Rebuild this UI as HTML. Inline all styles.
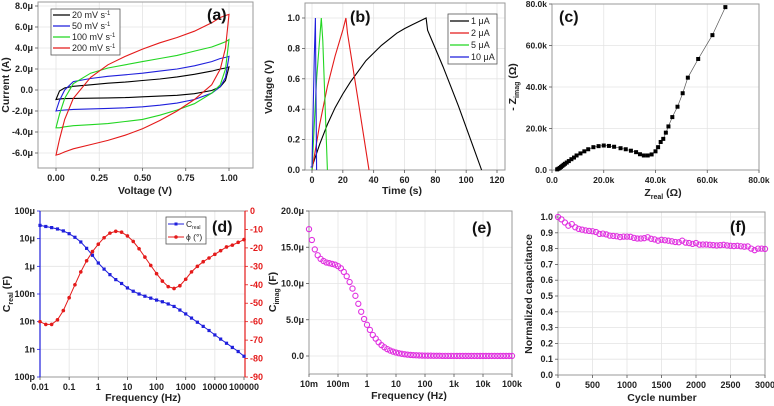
<!DOCTYPE html>
<html><head><meta charset="utf-8">
<style>
html,body{margin:0;padding:0;background:#fff;}
svg{display:block;font-family:"Liberation Sans",Arial,sans-serif;font-weight:bold;}
</style></head>
<body>
<svg id="fig" width="774" height="406" viewBox="0 0 774 406" xmlns="http://www.w3.org/2000/svg"></svg>
<script>
// ---- Panel (a) CV data ----
const cvVoltage = [0,0.02,0.05,0.1,0.2,0.3,0.4,0.5,0.6,0.7,0.8,0.9,0.95,0.98,1.0];
const cv20Up  = [-0.9,-0.1,0.2,0.35,0.5,0.65,0.75,0.9,1.05,1.25,1.5,1.8,2.0,2.1,2.2];
const cv20Low = [-0.9,-0.85,-0.82,-0.8,-0.78,-0.75,-0.72,-0.65,-0.58,-0.5,-0.35,-0.05,0.3,0.9,2.2];
const cv50Up  = [-2.0,-1.0,0.0,0.8,1.1,1.3,1.45,1.6,1.8,2.0,2.3,2.7,3.0,3.1,3.2];
const cv50Low = [-2.0,-1.95,-1.9,-1.85,-1.8,-1.75,-1.7,-1.6,-1.45,-1.25,-0.9,-0.3,0.3,1.2,3.2];
const cv100Up = [-3.6,-2.3,-0.8,0.6,1.6,2.1,2.4,2.7,3.0,3.3,3.7,4.1,4.4,4.6,4.8];
const cv100Low= [-3.6,-3.6,-3.5,-3.4,-3.3,-3.2,-3.0,-2.8,-2.4,-1.9,-1.3,-0.3,0.5,2.0,4.8];
const cv200Up = [-6.2,-4.7,-2.8,-0.8,1.2,2.4,3.2,3.9,4.5,5.0,5.6,6.4,6.9,7.1,7.2];
const cv200Low= [-6.2,-6.1,-5.9,-5.6,-5.2,-4.8,-4.3,-3.7,-2.9,-2.0,-0.9,0.5,2.0,4.0,7.2];
// ---- Panel (b) GCD data ----
const gcd1T = [0,5,10,15,20,25,30,35,40,45,50,55,60,65,70,74,75,80,85,90,95,100,105,110];
const gcd1V = [0.02,0.17,0.3,0.41,0.5,0.58,0.65,0.72,0.77,0.82,0.86,0.9,0.93,0.955,0.98,1.0,0.92,0.8,0.68,0.55,0.42,0.28,0.14,0];
const gcd2T = [0,5,10,15,20,22,23,30,37];
const gcd2V = [0,0.3,0.55,0.75,0.92,1.0,0.9,0.45,0];
const gcd5T = [0,3,6,7,10];
const gcd5V = [0,0.6,1.0,0.85,0];
const gcd10T = [-1,0,1.5,2.2,3];
const gcd10V = [0.02,0.02,0.75,1.0,0];
// ---- Panel (c) Nyquist data (kOhm) ----
const zReal = [2,2.5,3,3.5,4,4.5,5,5.7,6.5,7.5,8.5,9.5,11,12.5,14,16,18,20,22,24,26.5,28.5,30.5,32.5,34,35.5,37,38.5,40,41,42,43,44,45,46.5,48.5,50.5,52.5,56.5,62,67];
const zImag = [0.3,0.6,1,1.5,2,2.5,3,3.6,4.3,5.2,6,7,8,9,10,11,11.5,11.8,11.6,11.2,10.5,10,9.3,8.6,7.6,7,7,7.5,9,11,13.5,15,18,21,25.5,30.5,37,44.5,53.5,65,78.5];
// ---- Panel (d) Bode data ----
const bodeFreq = [0.01,0.0158,0.0251,0.0398,0.0631,0.1,0.158,0.251,0.398,0.631,1,1.58,2.51,3.98,6.31,10,15.8,25.1,39.8,63.1,100,158,251,398,631,1000,1580,2510,3980,6310,10000,15800,25100,39800,63100,100000];
const cRealLog10 = [-4.52,-4.56,-4.6,-4.65,-4.72,-4.82,-4.95,-5.12,-5.35,-5.6,-5.88,-6.1,-6.3,-6.48,-6.62,-6.78,-6.9,-7.0,-7.08,-7.15,-7.22,-7.28,-7.36,-7.45,-7.58,-7.72,-7.87,-8.02,-8.17,-8.32,-8.48,-8.63,-8.78,-8.93,-9.08,-9.25];
const phaseDeg = [-60,-61.5,-61.5,-59,-54,-47,-40,-33,-27,-22,-18,-14.5,-12,-11,-11.5,-13.5,-16.5,-20.5,-25,-29.5,-34,-38,-41,-42,-40.5,-37,-33,-30,-27.5,-25.5,-23.5,-21.5,-19.5,-18.5,-17,-15.5];
// ---- Panel (e) C imag data ----
const eLogFreq = [-2,-1.9,-1.8,-1.7,-1.6,-1.5,-1.4,-1.3,-1.2,-1.1,-1,-0.9,-0.8,-0.7,-0.6,-0.5,-0.4,-0.3,-0.2,-0.1,0,0.1,0.2,0.3,0.4,0.5,0.6,0.7,0.8,0.9,1,1.1,1.2,1.3,1.4,1.5,1.6,1.7,1.8,1.9,2,2.1,2.2,2.3,2.4,2.5,2.6,2.7,2.8,2.9,3,3.1,3.2,3.3,3.4,3.5,3.6,3.7,3.8,3.9,4,4.1,4.2,4.3,4.4,4.5,4.6,4.7,4.8,4.9,5];
const cImag = [17.5,16,14.7,13.9,13.4,13.1,12.9,12.8,12.7,12.6,12.4,12.1,11.6,11.0,10.2,9.3,8.3,7.2,6.1,5.1,4.3,3.6,2.9,2.4,1.9,1.5,1.2,0.95,0.75,0.6,0.48,0.38,0.3,0.24,0.19,0.15,0.12,0.1,0.08,0.06,0.05,0.04,0.04,0.03,0.03,0.03,0.02,0.02,0.02,0.02,0.02,0.01,0.01,0.01,0.01,0.01,0.01,0.01,0.01,0.01,0.01,0.01,0.01,0.01,0.01,0.01,0.01,0.01,0.01,0.01,0.01];
// ---- Panel (f) cycling data ----
const cycles = [0,50,100,150,200,250,300,350,400,450,500,550,600,650,700,750,800,850,900,950,1000,1050,1100,1150,1200,1250,1300,1350,1400,1450,1500,1550,1600,1650,1700,1750,1800,1850,1900,1950,2000,2050,2100,2150,2200,2250,2300,2350,2400,2450,2500,2550,2600,2650,2700,2750,2800,2850,2900,2950,3000];
const normCap = [1.0,0.985,0.965,0.945,0.955,0.935,0.925,0.92,0.915,0.912,0.91,0.905,0.893,0.895,0.89,0.882,0.88,0.878,0.873,0.876,0.876,0.875,0.868,0.864,0.864,0.866,0.872,0.862,0.858,0.85,0.856,0.853,0.85,0.846,0.842,0.84,0.85,0.838,0.835,0.83,0.835,0.825,0.826,0.826,0.824,0.822,0.82,0.822,0.824,0.82,0.818,0.816,0.818,0.815,0.812,0.814,0.8,0.79,0.8,0.8,0.798];

const NS = "http://www.w3.org/2000/svg";
const fig = document.getElementById('fig');
function el(tag, attrs, parent, txt){
  const e = document.createElementNS(NS, tag);
  for (const k in attrs) e.setAttribute(k, attrs[k]);
  if (txt !== undefined) e.textContent = txt;
  (parent || fig).appendChild(e);
  return e;
}
function lin(v0,p0,v1,p1){ return v => p0 + (v - v0) * (p1 - p0) / (v1 - v0); }
function logs(v0,p0,v1,p1){ const f = lin(Math.log10(v0),p0,Math.log10(v1),p1); return v => f(Math.log10(v)); }
function pathD(xs, ys, sx, sy){ return xs.map((x,i)=>(i?'L':'M')+sx(x).toFixed(1)+','+sy(ys[i]).toFixed(1)).join(''); }

function panel(name, box, xt, yt){
  const g = el('g', {}, fig);
  
  
  const fs = box.fs || 9;
  xt.forEach(t => { const x = t.p; if (x > box.x0+1 && x < box.x1-1) el('line',{x1:x,x2:x,y1:box.y0,y2:box.y1,stroke:'#e4e4e4','stroke-width':0.8},g); });
  yt.forEach(t => { const y = t.p; if (y > box.y0+1 && y < box.y1-1) el('line',{x1:box.x0,x2:box.x1,y1:y,y2:y,stroke:'#e4e4e4','stroke-width':0.8},g); });
  el('rect',{x:box.x0,y:box.y0,width:box.x1-box.x0,height:box.y1-box.y0,fill:'none',stroke:'#9a9a9a','stroke-width':1},g);
  const xa = el('g',{},g);
  
  
  xt.forEach(t => {
    el('line',{x1:t.p,x2:t.p,y1:box.y1,y2:box.y1+3,stroke:'#555','stroke-width':0.8},xa);
    el('text',{x:t.p,y:box.y1+13,'font-size':fs,'text-anchor':'middle',fill:'#222'},xa,t.l);
  });
  const ya = el('g',{},g);
  
  
  yt.forEach(t => {
    el('line',{x1:box.x0-3,x2:box.x0,y1:t.p,y2:t.p,stroke:box.yc||'#555','stroke-width':0.8},ya);
    el('text',{x:box.x0-5,y:t.p+3,'font-size':fs,'text-anchor':'end',fill:'#222'},ya,t.l);
  });
  return g;
}
function title(txt, x, y, rot, parent, name){
  const t = el('text',{x:x,y:y,'font-size':10.5,'text-anchor':'middle',fill:'#222',transform:rot?`rotate(-90 ${x} ${y})`:''},parent);
  
  
  t.innerHTML = txt;
  return t;
}
function plabel(txt,x,y,parent){
  const t = el('text',{x:x,y:y,'font-size':16,fill:'#111'},parent,txt);
  
  
}

// ===== Panel a =====
(function(){
  const sx = lin(0,56,1,229), sy = lin(0,90,8,6);
  const box = {x0:38,x1:253,y0:2,y1:168};
  const xtl = ['0.00','0.25','0.50','0.75','1.00'], xtv=[0,0.25,0.5,0.75,1];
  const ytv = [-6,-4,-2,0,2,4,6,8], ytl = ['-6.0μ','-4.0μ','-2.0μ','0.0','2.0μ','4.0μ','6.0μ','8.0μ'];
  const g = panel('panel-a-cv', box, xtv.map((v,i)=>({p:sx(v),l:xtl[i]})), ytv.map((v,i)=>({p:sy(v),l:ytl[i]})));
  const series = [[cv20Up,cv20Low,'#000'],[cv50Up,cv50Low,'#1f1fdc'],[cv100Up,cv100Low,'#22d622'],[cv200Up,cv200Low,'#e41a1a']];
  const names = ['cv-20mv','cv-50mv','cv-100mv','cv-200mv'];
  series.forEach((s,i)=>{
    const d = pathD(cvVoltage,s[0],sx,sy) + pathD(cvVoltage.slice().reverse(), s[1].slice().reverse(), sx, sy).replace('M','L') + 'Z';
    const p = el('path',{d:d,fill:'none',stroke:s[2],'stroke-width':1.1},g);
    
    
  });
  const lg = el('g',{},g);
  
  
  el('rect',{x:51,y:9,width:69,height:46,fill:'#fff',stroke:'#555','stroke-width':0.8},lg);
  const lt = ['20','50','100','200'];
  series.forEach((s,i)=>{
    const y = 15 + i*11;
    el('line',{x1:53,x2:70,y1:y,y2:y,stroke:s[2],'stroke-width':1.2},lg);
    const t = el('text',{x:72,y:y+3,'font-size':9,'font-weight':'normal',fill:'#222'},lg);
    
    
    t.innerHTML = lt[i] + ' mV s<tspan dy="-3" font-size="6">-1</tspan>';
  });
  title('Voltage (V)',145,194,false,g,'x-axis-title-a');
  title('Current (A)',9,85,true,g,'y-axis-title-a');
  plabel('(a)',207,20,g);
})();

// ===== Panel b =====
(function(){
  const sx = lin(0,312,120,497), sy = lin(0,170,1,18);
  const box = {x0:305,x1:505,y0:3,y1:170};
  const xtv=[0,20,40,60,80,100,120], ytv=[0,0.2,0.4,0.6,0.8,1.0];
  const g = panel('panel-b-gcd', box, xtv.map(v=>({p:sx(v),l:String(v)})), ytv.map(v=>({p:sy(v),l:v.toFixed(1)})));
  const ser = [[gcd1T,gcd1V,'#000','1 μA'],[gcd2T,gcd2V,'#e41a1a','2 μA'],[gcd5T,gcd5V,'#22d622','5 μA'],[gcd10T,gcd10V,'#1f1fdc','10 μA']];
  ser.forEach((s,i)=>{
    const p = el('path',{d:pathD(s[0],s[1],sx,sy),fill:'none',stroke:s[2],'stroke-width':1.1},g);
    
    
  });
  const lg = el('g',{},g);
  
  
  el('rect',{x:448,y:14,width:49,height:50,fill:'#fff',stroke:'#555','stroke-width':0.8},lg);
  ser.forEach((s,i)=>{
    const y = 21 + i*12;
    el('line',{x1:450,x2:469,y1:y,y2:y,stroke:s[2],'stroke-width':1.2},lg);
    const t = el('text',{x:471,y:y+3,'font-size':9,'font-weight':'normal',fill:'#222'},lg,s[3]);
    
    
  });
  title('Time (s)',402,194,false,g,'x-axis-title-b');
  title('Voltage (V)',272,87,true,g,'y-axis-title-b');
  plabel('(b)',350,22,g);
})();

// ===== Panel c =====
(function(){
  const sx = lin(0,552,80,759), sy = lin(0,170,80,4);
  const box = {x0:552,x1:759,y0:4,y1:170,fs:8.5};
  const tv=[0,20,40,60,80], tl=['0.0','20.0k','40.0k','60.0k','80.0k'];
  const g = panel('panel-c-nyquist', box, tv.map((v,i)=>({p:sx(v),l:tl[i]})), tv.map((v,i)=>({p:sy(v),l:tl[i]})));
  el('path',{d:pathD(zReal,zImag,sx,sy),fill:'none',stroke:'#555','stroke-width':0.7},g);
  zReal.forEach((x,i)=>{
    const r = el('rect',{x:sx(x)-2,y:sy(zImag[i])-2,width:4,height:4,fill:'#000'},g);
    
    
  });
  title('Z<tspan dy="3" font-size="7">real</tspan><tspan dy="-3"> (Ω)</tspan>',663,196,false,g,'x-axis-title-c');
  title('- Z<tspan dy="3" font-size="7">imag</tspan><tspan dy="-3"> (Ω)</tspan>',516,87,true,g,'y-axis-title-c');
  plabel('(c)',559,22,g);
})();

// ===== Panel d =====
(function(){
  const sx = logs(0.01,40,100000,244), sy = lin(-4,211,-10,377), sp = lin(0,211,-90,377);
  const box = {x0:40,x1:245,y0:211,y1:377,yc:'#1f1fdc'};
  const xtv=[0.01,0.1,1,10,100,1000,10000,100000], xtl=['0.01','0.1','1','10','100','1000','10000','100000'];
  const ytv=[-4,-5,-6,-7,-8,-9,-10], ytl=['100μ','10μ','1μ','100n','10n','1n','100p'];
  const g = panel('panel-d-bode', box, xtv.map((v,i)=>({p:sx(v),l:xtl[i]})), ytv.map((v,i)=>({p:sy(v),l:ytl[i]})));
  el('line',{x1:40,x2:40,y1:211,y2:377,stroke:'#1f1fdc','stroke-width':1.2},g);
  el('line',{x1:245,x2:245,y1:211,y2:377,stroke:'#e41a1a','stroke-width':1.2},g);
  const ra = el('g',{},g);
  
  
  for (let v=0; v>=-90; v-=10){
    el('line',{x1:245,x2:248,y1:sp(v),y2:sp(v),stroke:'#e41a1a','stroke-width':0.8},ra);
    el('text',{x:250,y:sp(v)+3,'font-size':9,fill:'#e41a1a'},ra,String(v));
  }
  const pc = el('path',{d:pathD(bodeFreq,cRealLog10,sx,sy),fill:'none',stroke:'#1f1fdc','stroke-width':1},g);
  
  
  bodeFreq.forEach((f,i)=>{ const r=el('rect',{x:sx(f)-1.6,y:sy(cRealLog10[i])-1.6,width:3.2,height:3.2,fill:'#1f1fdc'},g);
      });
  const pp = el('path',{d:pathD(bodeFreq,phaseDeg,sx,sp),fill:'none',stroke:'#e41a1a','stroke-width':1},g);
  
  
  bodeFreq.forEach((f,i)=>{ const r=el('circle',{cx:sx(f),cy:sp(phaseDeg[i]),r:1.8,fill:'#e41a1a'},g);
      });
  const lg = el('g',{},g);
  
  
  el('rect',{x:166,y:217,width:40,height:27,fill:'#fff',stroke:'#555','stroke-width':0.8},lg);
  el('line',{x1:168,x2:184,y1:224,y2:224,stroke:'#1f1fdc','stroke-width':1},lg);
  el('rect',{x:174.5,y:222.5,width:3,height:3,fill:'#1f1fdc'},lg);
  el('line',{x1:168,x2:184,y1:237,y2:237,stroke:'#e41a1a','stroke-width':1},lg);
  el('circle',{cx:176,cy:237,r:1.8,fill:'#e41a1a'},lg);
  const t1 = el('text',{x:186,y:227,'font-size':8.5,'font-weight':'normal',fill:'#222'},lg);
  t1.innerHTML='C<tspan dy="2" font-size="5">real</tspan>';
  el('text',{x:186,y:240,'font-size':8.5,'font-weight':'normal',fill:'#222'},lg,'ϕ (°)');
  title('Frequency (Hz)',143,401,false,g,'x-axis-title-d');
  title('C<tspan dy="3" font-size="7">real</tspan><tspan dy="-3"> (F)</tspan>',10,294,true,g,'y-axis-title-d');
  plabel('(d)',212,232,g);
})();

// ===== Panel e =====
(function(){
  const sx = lin(-2,309,5,512), sy = lin(0,356,20,211);
  const box = {x0:309,x1:512,y0:211,y1:374};
  const xtv=[-2,-1,0,1,2,3,4,5], xtl=['10m','100m','1','10','100','1k','10k','100k'];
  const ytv=[0,5,10,15,20], ytl=['0.0','5.0μ','10.0μ','15.0μ','20.0μ'];
  const g = panel('panel-e-cimag', box, xtv.map((v,i)=>({p:sx(v),l:xtl[i]})), ytv.map((v,i)=>({p:sy(v),l:ytl[i]})));
  eLogFreq.forEach((f,i)=>{ const c=el('circle',{cx:sx(f),cy:sy(cImag[i]),r:2.6,fill:'none',stroke:'#e030e0','stroke-width':1.1},g);
      });
  title('Frequency (Hz)',409,399,false,g,'x-axis-title-e');
  title('C<tspan dy="3" font-size="7">imag</tspan><tspan dy="-3"> (F)</tspan>',276,292,true,g,'y-axis-title-e');
  plabel('(e)',472,233,g);
})();

// ===== Panel f =====
(function(){
  const sx = lin(0,558,3000,765), sy = lin(0,375,1,217);
  const box = {x0:558,x1:765,y0:212,y1:375};
  const xtv=[0,500,1000,1500,2000,2500,3000], ytv=[0,0.1,0.2,0.3,0.4,0.5,0.6,0.7,0.8,0.9,1.0];
  const g = panel('panel-f-cycling', box, xtv.map(v=>({p:sx(v),l:String(v)})), ytv.map(v=>({p:sy(v),l:v.toFixed(1)})));
  cycles.forEach((c,i)=>{ const e=el('circle',{cx:sx(c),cy:sy(normCap[i]),r:2.6,fill:'none',stroke:'#e030e0','stroke-width':1.1},g);
      });
  title('Cycle number',662,401,false,g,'x-axis-title-f');
  title('Normalized capacitance',532,294,true,g,'y-axis-title-f');
  plabel('(f)',730,232,g);
})();
</script>
</body></html>
